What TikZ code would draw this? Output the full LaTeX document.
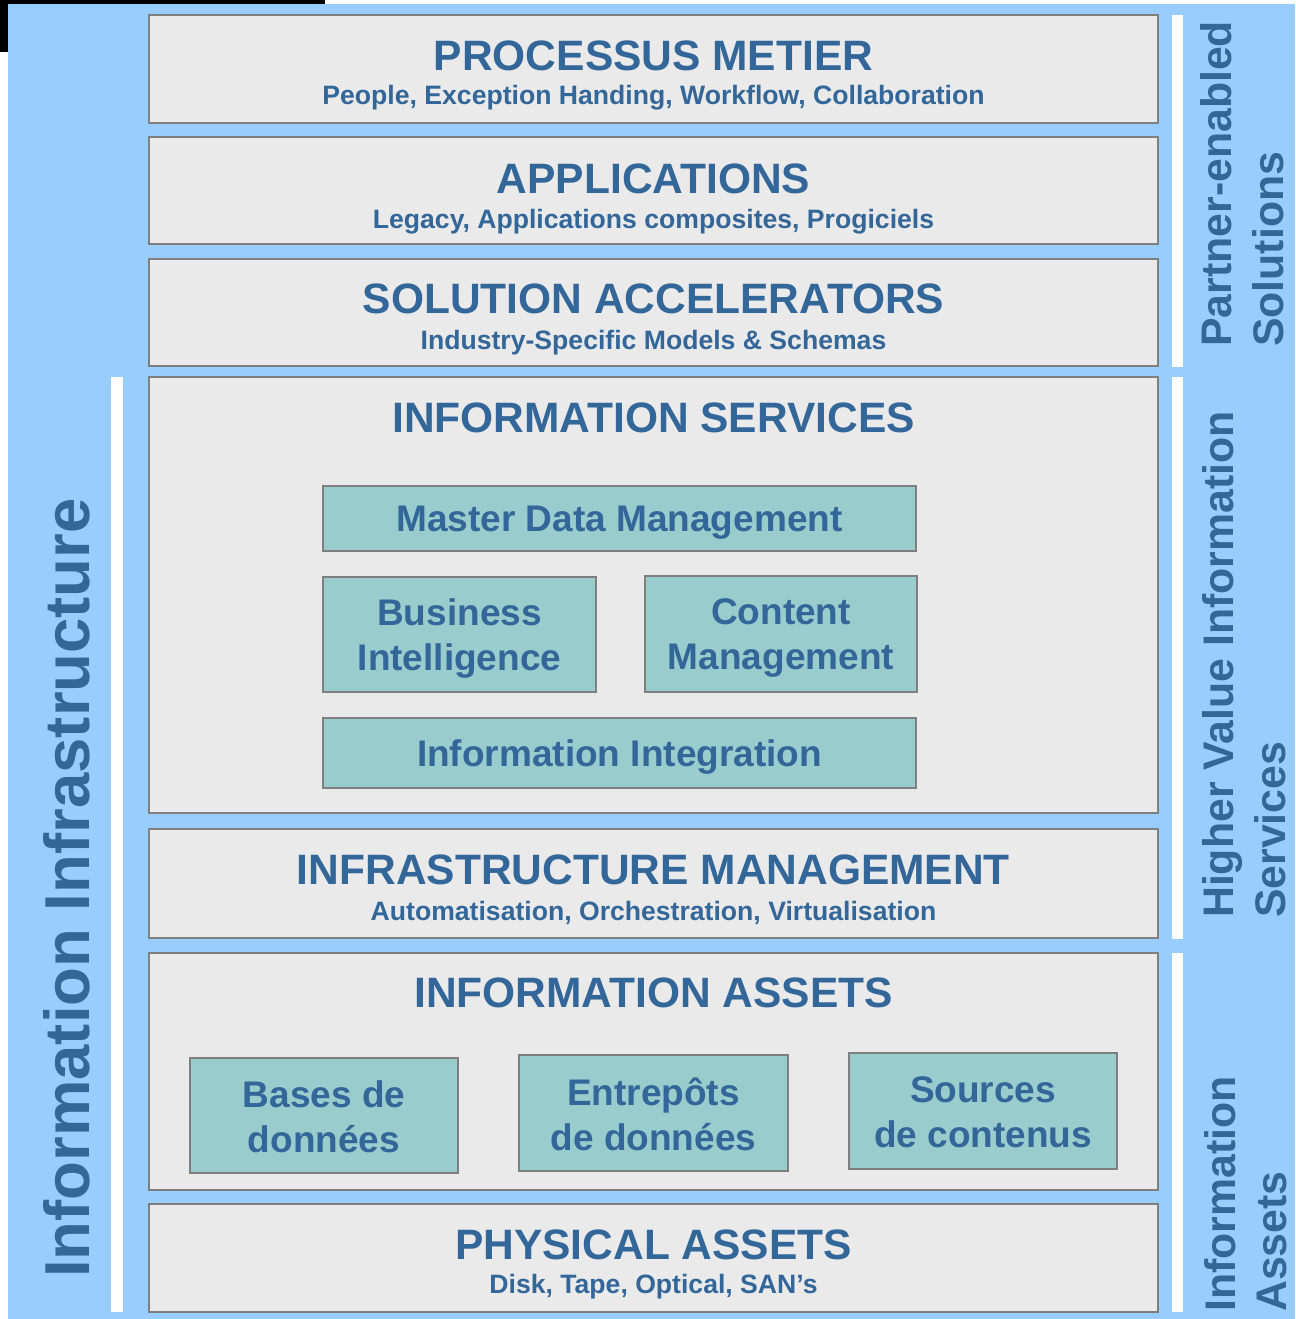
\documentclass[tikz,border=0pt]{standalone}
\usepackage{fontspec}
\setmainfont{Liberation Sans}
\definecolor{bgblue}{HTML}{99CCFF}
\definecolor{layerfill}{HTML}{EAEAEA}
\definecolor{bordergray}{HTML}{7F7F7F}
\definecolor{tealfill}{HTML}{99CCCC}
\definecolor{txtblue}{HTML}{336699}
\begin{document}
\begin{tikzpicture}[x=1pt,y=-1pt,
  layer/.style={draw=bordergray, fill=layerfill, line width=2.8pt, rectangle, inner sep=0pt},
  subbox/.style={draw=bordergray, fill=tealfill, line width=2.8pt, rectangle, inner sep=0pt},
  boxtxt/.style={align=center, text=txtblue, inner sep=0pt, font=\fontsize{37}{45}\selectfont\bfseries},
  ttl/.style={anchor=base, text=txtblue, font=\fontsize{42.5}{48}\selectfont\bfseries, inner sep=0pt},
  sub/.style={anchor=base, text=txtblue, font=\fontsize{26.6}{30}\selectfont\bfseries, inner sep=0pt},
  side/.style={rotate=90, anchor=base west, text=txtblue, font=\fontsize{42.8}{48}\selectfont\bfseries, inner sep=0pt},
  bigside/.style={rotate=90, anchor=base, text=txtblue, font=\fontsize{63.5}{70}\selectfont\bfseries, inner sep=0pt},
  bar/.style={fill=white}]
\useasboundingbox (0,0) rectangle (1295,1319);
\fill[white] (0,0) rectangle (1295,1319);
\fill[bgblue] (8,4) rectangle (1295,1319);
\fill[black] (0,0) rectangle (325,4);
\fill[black] (0,0) rectangle (8,52);

% white separator bars
\fill[bar] (1172,15) rectangle (1183,367);
\fill[bar] (1172,377) rectangle (1183,939);
\fill[bar] (1172,953) rectangle (1183,1312);
\fill[bar] (111,377) rectangle (123,1312);

% layers
\node[layer, minimum width=1009, minimum height=108] (pm) at (653.5,69) {};
\node[layer, minimum width=1009, minimum height=107] (app) at (653.5,190.5) {};
\node[layer, minimum width=1009, minimum height=107] (sa) at (653.5,312.5) {};
\node[layer, minimum width=1009, minimum height=436] (is) at (653.5,595) {};
\node[layer, minimum width=1009, minimum height=109] (im) at (653.5,883.5) {};
\node[layer, minimum width=1009, minimum height=237] (ia) at (653.5,1071.5) {};
\node[layer, minimum width=1009, minimum height=108] (pa) at (653.5,1258) {};

% layer titles
\node[ttl] (pmT) at (653.5,71) {PROCESSUS METIER};
\node[sub] (pmS) at (653.5,105) {People, Exception Handing, Workflow, Collaboration};
\node[ttl] (appT) at (653.5,193) {APPLICATIONS};
\node[sub] (appS) at (653.5,228) {Legacy, Applications composites, Progiciels};
\node[ttl] (saT) at (653.5,313) {SOLUTION ACCELERATORS};
\node[sub] (saS) at (653.5,349) {Industry-Specific Models \& Schemas};
\node[ttl] (isT) at (653.5,432) {INFORMATION SERVICES};
\node[ttl] (imT) at (653.5,884) {INFRASTRUCTURE MANAGEMENT};
\node[sub] (imS) at (653.5,920) {Automatisation, Orchestration, Virtualisation};
\node[ttl] (iaT) at (653.5,1007) {INFORMATION ASSETS};
\node[ttl] (paT) at (653.5,1259) {PHYSICAL ASSETS};
\node[sub] (paS) at (653.5,1293) {Disk, Tape, Optical, SAN’s};

% information services boxes
\node[subbox, minimum width=593, minimum height=65] (mdm) at (619.5,518.5) {};
\node[subbox, minimum width=273, minimum height=115] (bi) at (459.5,634.5) {};
\node[subbox, minimum width=272, minimum height=116] (cm) at (781,634) {};
\node[subbox, minimum width=593, minimum height=70] (ii) at (619.5,753) {};
\node[boxtxt] (mdmT) at ([yshift=-4pt]mdm.center) {Master Data Management};
\node[boxtxt] (biT) at ([yshift=-4pt]bi.center) {Business\\Intelligence};
\node[boxtxt] (cmT) at ([yshift=-4pt]cm.center) {Content\\Management};
\node[boxtxt] (iiT) at ([yshift=-4pt]ii.center) {Information Integration};

% information assets boxes
\node[subbox, minimum width=268, minimum height=115] (bd) at (324,1115.5) {};
\node[subbox, minimum width=269, minimum height=116] (ed) at (653.5,1113) {};
\node[subbox, minimum width=268, minimum height=116] (sc) at (983,1111) {};
\node[boxtxt] (bdT) at ([yshift=-1pt]bd.center) {Bases de\\données};
\node[boxtxt] (edT) at ([yshift=-1pt]ed.center) {Entrepôts\\de données};
\node[boxtxt] (scT) at ([yshift=-1pt]sc.center) {Sources\\de contenus};

% side labels
\node[bigside] (infra) at (89,888) {Information Infrastructure};
\node[side] (pe1) at (1231,347) {Partner-enabled};
\node[side] (pe2) at (1283,347) {Solutions};
\node[side] (hv1) at (1233,918) {Higher Value Information};
\node[side] (hv2) at (1285,918) {Services};
\node[side] (ias1) at (1235,1312) {Information};
\node[side] (ias2) at (1286,1312) {Assets};
\end{tikzpicture}
\end{document}
